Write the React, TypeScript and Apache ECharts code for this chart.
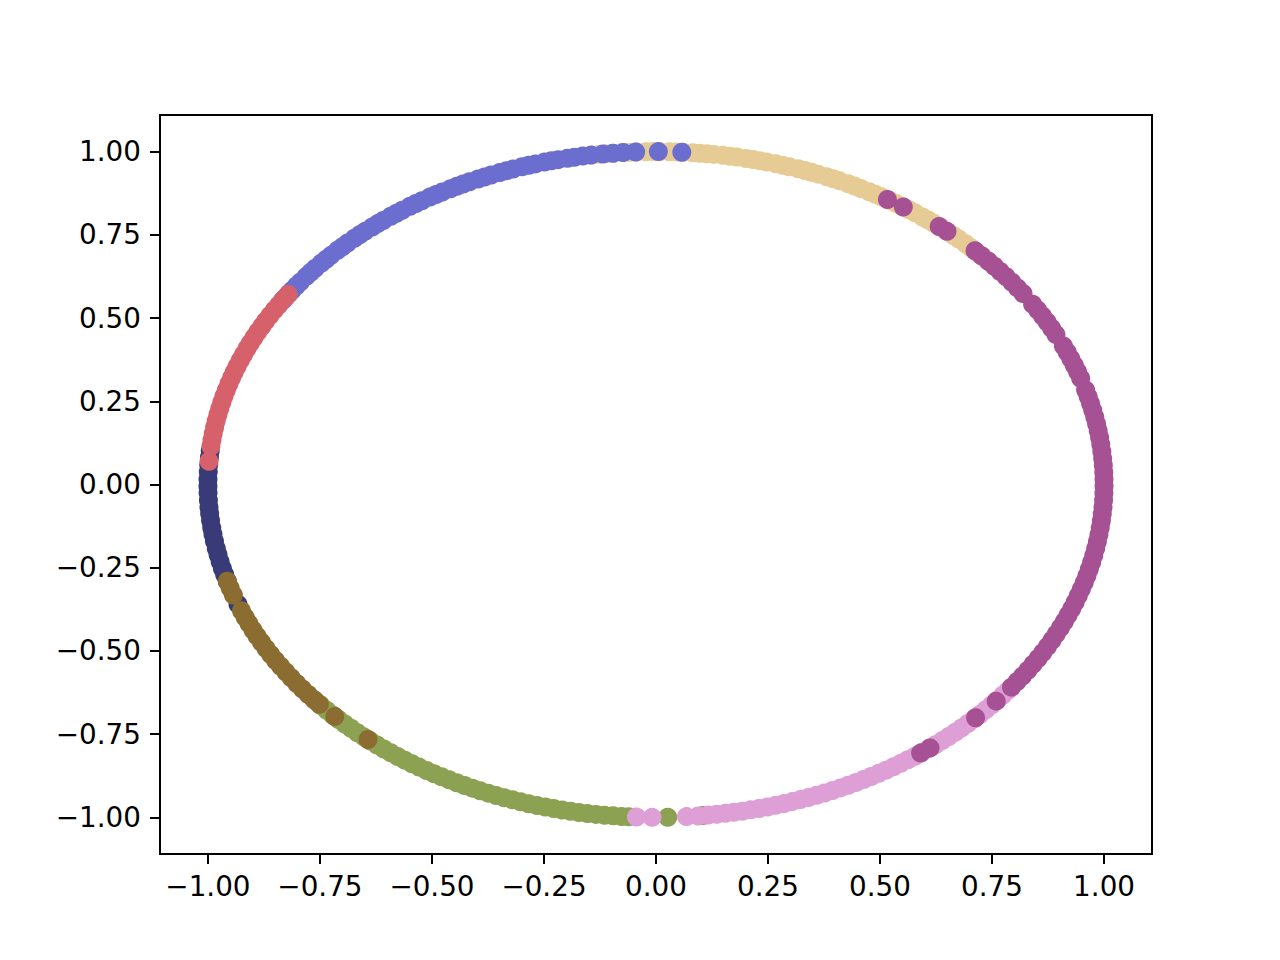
import React, { useEffect, useRef } from "react";
import * as echarts from "echarts";

// Angles (degrees) of the points of each cluster
const navyAngles = [174.2, 175.3, 176.6, 177.8, 179.1, 180.3, 181.4, 182.7, 183.9, 185.0, 186.2, 187.5, 188.6, 189.8, 191.1, 192.2, 193.4, 194.6, 195.7, 196.9, 201.1];
const tanAngles = [41.2, 42.3, 43.1, 44.2, 45.4, 46.3, 47.5, 48.4, 49.6, 50.5, 51.7, 52.6, 53.5, 54.7, 55.6, 56.8, 57.7, 58.6, 59.8, 60.7, 61.6, 62.8, 63.7, 64.6, 65.8, 66.7, 67.6, 68.8, 69.7, 70.6, 71.5, 72.7, 73.6, 74.5, 75.7, 76.6, 77.5, 78.4, 79.6, 80.5, 81.4, 82.6, 83.5, 84.4, 85.3, 86.5, 87.4, 88.3, 89.5, 90.4, 91.3, 92.5, 93.4, 94.3, 95.5, 96.4, 97.3, 98.4];
const blueAngles = [86.7, 89.7, 92.6, 94.2, 95.5, 96.8, 98.3, 99.4, 100.5, 101.4, 102.6, 103.5, 104.4, 105.6, 106.5, 107.4, 108.6, 109.5, 110.4, 111.6, 112.5, 113.4, 114.6, 115.5, 116.4, 117.3, 118.5, 119.4, 120.3, 121.5, 122.4, 123.3, 124.5, 125.4, 126.3, 127.5, 128.4, 129.3, 130.5, 131.4, 132.3, 133.5, 134.4, 135.3, 136.5, 137.4, 138.3, 139.5, 140.4, 141.3, 142.5, 143.4, 144.3, 145.0, 145.8, 146.5];
const greenAngles = [-139.5, -138.4, -137.3, -136.2, -135.1, -134.0, -132.9, -131.8, -130.7, -129.6, -128.5, -127.4, -126.3, -125.2, -124.1, -123.0, -121.9, -120.8, -119.7, -118.6, -117.5, -116.4, -115.3, -114.2, -113.1, -112.0, -110.9, -109.8, -108.7, -107.6, -106.5, -105.4, -104.3, -103.2, -102.1, -101.0, -99.9, -98.8, -97.7, -96.6, -95.5, -94.4, -93.5, -88.5, -84.0];
const pinkAngles = [-92.5, -90.5, -86.1, -84.6, -83.3, -82.2, -81.1, -80.0, -78.9, -77.8, -76.7, -75.6, -74.5, -73.4, -72.3, -71.2, -70.1, -69.0, -67.9, -66.8, -65.7, -64.6, -63.5, -62.4, -61.3, -60.2, -59.1, -58.0, -56.9, -55.8, -54.7, -53.6, -52.5, -51.4, -50.3, -49.2, -48.1, -47.0, -45.9, -44.8, -43.7, -42.6, -41.5, -40.4, -39.3, -38.2];
const purpleAngles = [-53.8, -52.3, -44.5, -40.6, -37.5, -36.3, -35.1, -33.9, -32.7, -31.5, -30.3, -29.1, -27.9, -26.7, -25.5, -24.3, -23.1, -21.9, -20.7, -19.5, -18.3, -17.1, -15.9, -14.7, -13.5, -12.3, -11.1, -9.9, -8.7, -7.5, -6.3, -5.1, -3.9, -2.7, -1.5, -0.3, 0.9, 2.1, 3.3, 4.5, 5.7, 6.9, 8.1, 9.3, 10.5, 11.7, 12.9, 14.1, 15.3, 16.5, 18.6, 19.8, 21.0, 22.2, 23.4, 24.6, 26.8, 28.0, 29.2, 30.4, 31.6, 32.8, 35.0, 36.2, 37.4, 38.6, 39.8, 40.9, 42.1, 43.4, 44.6, 49.5, 50.8, 56.5, 58.9];
const brownAngles = [-163.1, -161.9, -160.6, -157.7, -156.5, -155.3, -154.1, -152.9, -151.7, -150.5, -149.3, -148.1, -146.9, -145.7, -144.5, -143.3, -142.1, -140.9, -139.8, -138.7, -135.8, -130.0];
const redAngles = [145.2, 146.3, 147.4, 148.4, 149.5, 150.6, 151.6, 152.7, 153.8, 154.9, 155.9, 157.0, 158.1, 159.2, 160.3, 161.3, 162.4, 163.5, 164.6, 165.7, 166.8, 167.9, 169.0, 170.1, 171.2, 172.3, 173.4, 176.0];

const tickValues = [-1, -0.75, -0.5, -0.25, 0, 0.25, 0.5, 0.75, 1];

// drawing order: bottom to top
const clusters = [
  { name: "c0", color: "#393b79", angles: navyAngles },
  { name: "c1", color: "#e7cb94", angles: tanAngles },
  { name: "c2", color: "#6b6ecf", angles: blueAngles },
  { name: "c3", color: "#8ca252", angles: greenAngles },
  { name: "c4", color: "#de9ed6", angles: pinkAngles },
  { name: "c5", color: "#a55194", angles: purpleAngles },
  { name: "c6", color: "#8c6d31", angles: brownAngles },
  { name: "c7", color: "#d6616b", angles: redAngles },
];

const toXY = (deg: number[]) =>
  deg.map((a) => [Math.cos((a * Math.PI) / 180), Math.sin((a * Math.PI) / 180)]);

const fmt = (v: number) => Number(v).toFixed(2).replace("-", "\u2212");

export default function App() {
  const ref = useRef<HTMLDivElement>(null);
  useEffect(() => {
    const chart = echarts.init(ref.current!, null, { renderer: "svg" });
    const labelStyle = {
      fontSize: 27.8,
      fontFamily: "DejaVu Sans",
      color: "#000",
      formatter: fmt,
      customValues: tickValues,
    };
    const tickStyle = {
      show: true,
      inside: false,
      length: 10,
      customValues: tickValues,
      lineStyle: { color: "#000", width: 2 },
    };
    chart.setOption({
      animation: false,
      backgroundColor: "#ffffff",
      grid: {
        left: 160,
        right: 128,
        top: 115,
        bottom: 106,
        show: true,
        borderColor: "#000",
        borderWidth: 2,
        backgroundColor: "transparent",
      },
      xAxis: {
        type: "value",
        position: "bottom",
        min: -1.107,
        max: 1.107,
        splitLine: { show: false },
        axisLine: { show: false, onZero: false },
        axisTick: tickStyle,
        axisLabel: { ...labelStyle, margin: 18 },
      },
      yAxis: {
        type: "value",
        position: "left",
        min: -1.11,
        max: 1.11,
        splitLine: { show: false },
        axisLine: { show: false, onZero: false },
        axisTick: tickStyle,
        axisLabel: { ...labelStyle, margin: 19 },
      },
      series: clusters.map((c) => ({
        name: c.name,
        type: "scatter",
        symbol: "circle",
        symbolSize: 19,
        data: toXY(c.angles),
        itemStyle: { color: c.color, opacity: 1 },
        emphasis: { disabled: true },
        silent: true,
      })),
    });
    return () => chart.dispose();
  }, []);
  return (
    <div
      ref={ref}
      style={{ position: "absolute", left: 0, top: 0, width: 1280, height: 960 }}
    />
  );
}
